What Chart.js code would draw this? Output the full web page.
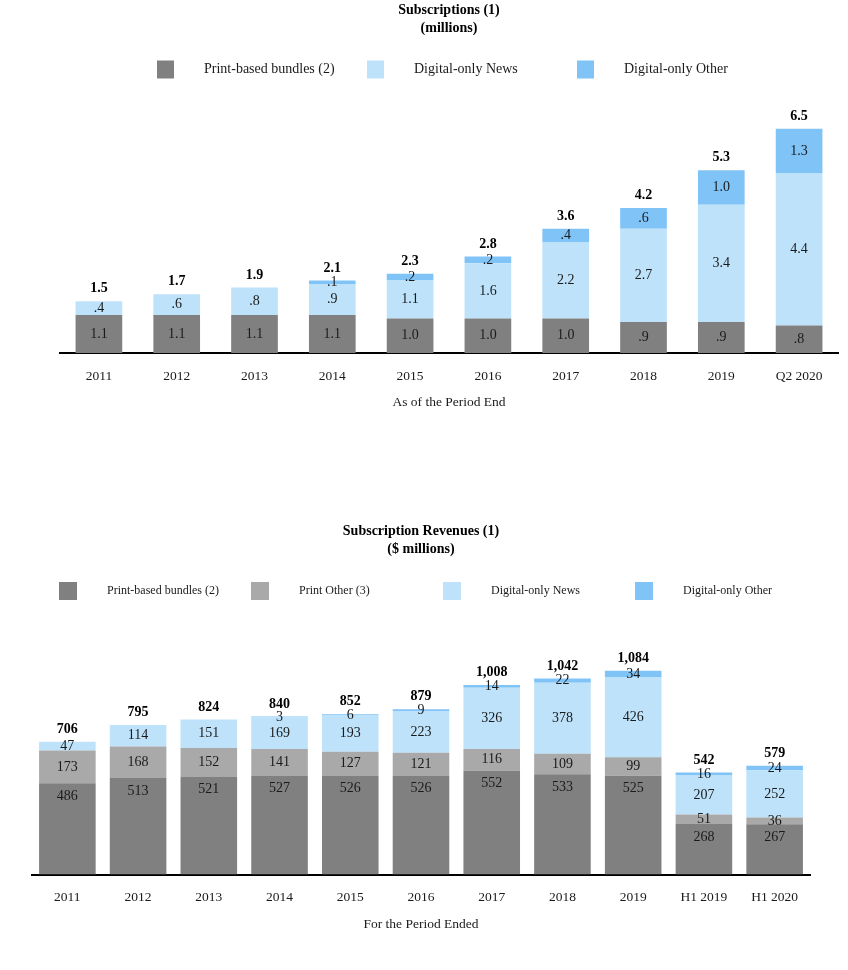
<!DOCTYPE html>
<html>
<head>
<meta charset="utf-8">
<script src="https://cdn.jsdelivr.net/npm/chart.js@4.4.1/dist/chart.umd.min.js"></script>
<style>
  html, body { margin: 0; padding: 0; background: #fff; }
  .box { position: absolute; left: 0; width: 848px; }
  #top { top: 0; height: 420px; }
  #bottom { top: 510px; height: 430px; }
</style>
</head>
<body>
<div class="box" id="top"><canvas id="subsChart"></canvas></div>
<div class="box" id="bottom"><canvas id="revChart"></canvas></div>
<script>
// subscriptions, millions, as of period end
var subsYears = ['2011', '2012', '2013', '2014', '2015', '2016', '2017', '2018', '2019', 'Q2 2020'];
var subsPrint = [1.1, 1.1, 1.1, 1.1, 1.0, 1.0, 1.0, 0.9, 0.9, 0.8];
var subsNews = [0.4, 0.6, 0.8, 0.9, 1.1, 1.6, 2.2, 2.7, 3.4, 4.4];
var subsOther = [0, 0, 0, 0.1, 0.2, 0.2, 0.4, 0.6, 1.0, 1.3];
var subsTotals = [1.5, 1.7, 1.9, 2.1, 2.3, 2.8, 3.6, 4.2, 5.3, 6.5];

// subscription revenues, $ millions
var revPeriods = ['2011', '2012', '2013', '2014', '2015', '2016', '2017', '2018', '2019', 'H1 2019', 'H1 2020'];
var revPrint = [486, 513, 521, 527, 526, 526, 552, 533, 525, 268, 267];
var revPrintOther = [173, 168, 152, 141, 127, 121, 116, 109, 99, 51, 36];
var revNews = [47, 114, 151, 169, 193, 223, 326, 378, 426, 207, 252];
var revOther = [0, 0, 0, 3, 6, 9, 14, 22, 34, 16, 24];
var revTotals = [706, 795, 824, 840, 852, 879, 1008, 1042, 1084, 542, 579];

var FONT = '"Liberation Serif", "Times New Roman", serif';
var TEXT = '#1a1a1a';
Chart.defaults.font.family = FONT;
Chart.defaults.color = TEXT;

function fmtMillions(v) {
    var s = v.toFixed(1);
    return s.charAt(0) === '0' ? s.slice(1) : s;
}

function fmtDollars(v) {
    return String(v).replace(/\B(?=(\d{3})+(?!\d))/g, ',');
}

// legend with fixed slots, like the source deck
function makeLegend(x0, step, gap, y, size, boxW, boxH) {
    return {
        id: 'slotLegend',
        afterDraw: function (chart) {
            var ctx = chart.ctx;
            ctx.save();
            ctx.font = size + 'px ' + FONT;
            ctx.textBaseline = 'middle';
            ctx.textAlign = 'left';
            chart.data.datasets.forEach(function (ds, i) {
                var x = x0 + i * step;
                ctx.fillStyle = ds.backgroundColor;
                ctx.fillRect(x, y - boxH / 2, boxW, boxH);
                ctx.fillStyle = TEXT;
                ctx.fillText(ds.label, x + gap, y);
            });
            ctx.restore();
        }
    };
}

// values inside the segments and totals on top
function makeLabels(totals, fmt, firstFromTop) {
    return {
        id: 'barLabels',
        afterDatasetsDraw: function (chart) {
            var ctx = chart.ctx;
            ctx.save();
            ctx.textAlign = 'center';
            ctx.textBaseline = 'middle';
            ctx.fillStyle = TEXT;
            ctx.font = '14px ' + FONT;
            chart.data.datasets.forEach(function (ds, i) {
                chart.getDatasetMeta(i).data.forEach(function (bar, j) {
                    var v = ds.data[j];
                    if (!v) return;
                    var y = (i === 0 && firstFromTop) ? bar.y + firstFromTop : (bar.y + bar.base) / 2;
                    ctx.fillText(fmt(v), bar.x, y);
                });
            });
            ctx.font = 'bold 14px ' + FONT;
            ctx.fillStyle = '#000';
            var last = chart.getDatasetMeta(chart.data.datasets.length - 1).data;
            totals.forEach(function (t, j) {
                ctx.fillText(fmt(t), last[j].x, last[j].y - 12.5);
            });
            ctx.restore();
        }
    };
}

var subsChart = new Chart(document.getElementById('subsChart'), {
    type: 'bar',
    data: {
        labels: subsYears,
        datasets: [
            { label: 'Print-based bundles (2)', data: subsPrint, backgroundColor: '#808080' },
            { label: 'Digital-only News', data: subsNews, backgroundColor: '#BDE2FA' },
            { label: 'Digital-only Other', data: subsOther, backgroundColor: '#80C3F7' }
        ]
    },
    options: {
        responsive: true,
        maintainAspectRatio: false,
        animation: false,
        events: [],
        layout: { padding: { left: 60, right: 10 } },
        datasets: { bar: { categoryPercentage: 1, barPercentage: 0.6 } },
        scales: {
            x: {
                stacked: true,
                grid: { display: false, drawTicks: false },
                border: { display: true, color: '#000', width: 2 },
                ticks: { padding: 15, color: TEXT, font: { size: 13.5 } },
                title: {
                    display: true,
                    text: 'As of the Period End',
                    color: TEXT,
                    font: { size: 13.5 },
                    padding: { top: 0, bottom: 9 }
                },
                afterFit: function (s) { s.height = 67; }
            },
            y: { stacked: true, display: false, min: 0, max: 7 }
        },
        plugins: {
            legend: { display: false },
            tooltip: { enabled: false },
            title: {
                display: true,
                text: ['Subscriptions (1)', '(millions)'],
                color: '#000',
                font: { size: 14, weight: 'bold', lineHeight: 1.3 },
                padding: { top: 1.4, bottom: 73.7 }
            }
        }
    },
    plugins: [makeLegend(157, 210, 47, 69.5, 14, 17, 18), makeLabels(subsTotals, fmtMillions, 0)]
});

var revChart = new Chart(document.getElementById('revChart'), {
    type: 'bar',
    data: {
        labels: revPeriods,
        datasets: [
            { label: 'Print-based bundles (2)', data: revPrint, backgroundColor: '#808080' },
            { label: 'Print Other (3)', data: revPrintOther, backgroundColor: '#A9A9A9' },
            { label: 'Digital-only News', data: revNews, backgroundColor: '#BDE2FA' },
            { label: 'Digital-only Other', data: revOther, backgroundColor: '#80C3F7' }
        ]
    },
    options: {
        responsive: true,
        maintainAspectRatio: false,
        animation: false,
        events: [],
        layout: { padding: { left: 32, right: 38 } },
        datasets: { bar: { categoryPercentage: 1, barPercentage: 0.8 } },
        scales: {
            x: {
                stacked: true,
                grid: { display: false, drawTicks: false },
                border: { display: true, color: '#000', width: 2 },
                ticks: { padding: 15, color: TEXT, font: { size: 13.5 } },
                title: {
                    display: true,
                    text: 'For the Period Ended',
                    color: TEXT,
                    font: { size: 13.5 },
                    padding: { top: 0, bottom: 7 }
                },
                afterFit: function (s) { s.height = 65.5; }
            },
            y: { stacked: true, display: false, min: 0, max: 1300 }
        },
        plugins: {
            legend: { display: false },
            tooltip: { enabled: false },
            title: {
                display: true,
                text: ['Subscription Revenues (1)', '($ millions)'],
                color: '#000',
                font: { size: 14, weight: 'bold', lineHeight: 1.3 },
                padding: { top: 11.9, bottom: 71.8 }
            }
        }
    },
    plugins: [makeLegend(59, 192, 48, 81, 12, 18, 18), makeLabels(revTotals, fmtDollars, 13)]
});
</script>
</body>
</html>
